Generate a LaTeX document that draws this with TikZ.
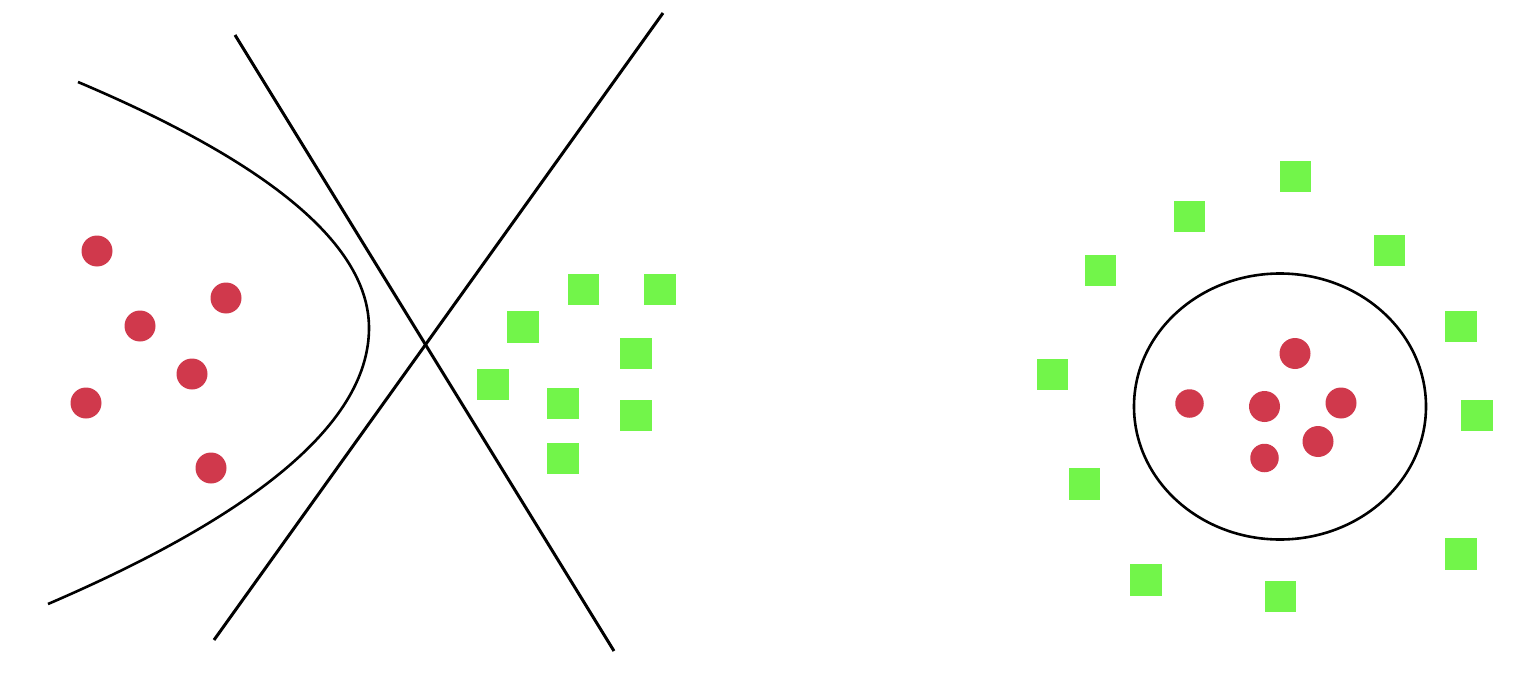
\documentclass[tikz,border=0pt]{standalone}
\usetikzlibrary{shapes.geometric}
\begin{document}
\begin{tikzpicture}[x=1pt,y=-1pt,
  dotr/.style={circle,fill=redc,inner sep=0pt,minimum size=31pt},
  dots/.style={circle,fill=redc,inner sep=0pt,minimum size=28.5pt},
  sq/.style={rectangle,fill=greenc,inner sep=0pt,minimum size=31.5pt},
  bline/.style={line width=3pt,black}]
\definecolor{redc}{HTML}{D0394C}
\definecolor{greenc}{HTML}{72F54A}
\useasboundingbox (0,0) rectangle (1534,690);
% curve
\coordinate (c0) at (78,82);
\coordinate (cv) at (369,328);
\coordinate (c1) at (48,604);
\draw[line width=2.6pt] (c0) .. controls (272,164) and (369,246) .. (cv)
  .. controls (369,420) and (262,512) .. (c1);
% lines
\coordinate (a0) at (235,35);
\coordinate (a1) at (614,651);
\coordinate (b0) at (663,13);
\coordinate (b1) at (214,640);
\draw[bline] (a0) -- (a1);
\draw[bline] (b0) -- (b1);
% left red dots
\node[dotr] (r1) at (97,251) {};
\node[dotr] (r2) at (226,298) {};
\node[dotr] (r3) at (140,326) {};
\node[dotr] (r4) at (192,374) {};
\node[dotr] (r5) at (86,403) {};
\node[dotr] (r6) at (211,468) {};
% left green squares
\node[sq] (g1) at (583.5,289.5) {};
\node[sq] (g2) at (660,289.5) {};
\node[sq] (g3) at (523,327) {};
\node[sq] (g4) at (636,353.5) {};
\node[sq] (g5) at (493,384.5) {};
\node[sq] (g6) at (563,403.5) {};
\node[sq] (g7) at (636,415.5) {};
\node[sq] (g8) at (563,458.5) {};
% right ellipse
\node[draw,ellipse,line width=2.6pt,minimum width=292pt,minimum height=266pt,inner sep=0pt] (el) at (1280,406.5) {};
% right red dots
\node[dotr] (s1) at (1295,353.5) {};
\node[dots] (s2) at (1189.5,403.5) {};
\node[dotr] (s3) at (1264.5,406.5) {};
\node[dotr] (s4) at (1341,403) {};
\node[dotr] (s5) at (1318,441.5) {};
\node[dots] (s6) at (1264.5,458) {};
% right green squares
\node[sq] (h1) at (1295.5,176.5) {};
\node[sq] (h2) at (1189.5,216.5) {};
\node[sq] (h3) at (1389.5,250.5) {};
\node[sq] (h4) at (1100.5,270.5) {};
\node[sq] (h5) at (1461,326.5) {};
\node[sq] (h6) at (1052.5,374.5) {};
\node[sq] (h7) at (1477,415.5) {};
\node[sq] (h8) at (1084.5,484) {};
\node[sq] (h9) at (1461,554) {};
\node[sq] (h10) at (1146,580) {};
\node[sq] (h11) at (1280.5,596.5) {};
\end{tikzpicture}
\end{document}
